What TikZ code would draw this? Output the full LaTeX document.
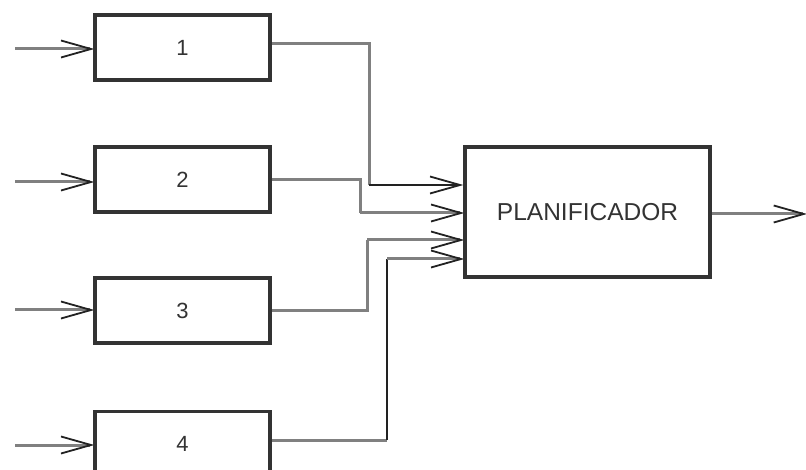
\documentclass[tikz,border=0pt]{standalone}
\usepackage{fontspec}
\setmainfont{Liberation Sans}
\usetikzlibrary{arrows.meta}
\definecolor{boxline}{HTML}{333333}
\definecolor{wire}{HTML}{808080}
\definecolor{wiredark}{HTML}{222222}
\tikzset{
  x=1pt, y=-1pt,
  stagebox/.style={draw=boxline, line width=3.4pt, fill=white, minimum width=175pt, minimum height=65pt, inner sep=0pt, font=\fontsize{22}{24}\selectfont, text=boxline},
  planbox/.style={draw=boxline, line width=3.4pt, fill=white, minimum width=245pt, minimum height=130pt, inner sep=0pt, font=\fontsize{24.5}{26}\selectfont, text=boxline},
  feed/.style={draw=wire, line width=3pt, -{Straight Barb[length=30pt, width=17pt, line width=1.8pt, color=wiredark]}, shorten >=-1pt},
  wireline/.style={draw=wire, line width=3pt},
  darkline/.style={draw=wiredark, line width=1.8pt},
}
\begin{document}
\begin{tikzpicture}
\useasboundingbox (0,0) rectangle (806,470);
\begin{scope}
\clip (0,0) rectangle (806,470);
% stage boxes and the scheduler
\node[stagebox] (b1) at (182.5,47.5) {1};
\node[stagebox] (b2) at (182.5,179.5) {2};
\node[stagebox] (b3) at (182.5,310.5) {3};
\node[stagebox] (b4) at (182.5,444) {4};
\node[planbox] (plan) at (587.5,212) {PLANIFICADOR};

% inputs on the left
\coordinate (i1) at (15,49);
\coordinate (i2) at (15,182);
\coordinate (i3) at (15,310);
\coordinate (i4) at (15,445);
\draw[feed] (i1) -- (i1 -| b1.west);
\draw[feed] (i2) -- (i2 -| b2.west);
\draw[feed] (i3) -- (i3 -| b3.west);
\draw[feed] (i4) -- (i4 -| b4.west);

% routed connectors into the scheduler
\coordinate (o1) at (b1.east |- 0,44);
\coordinate (o2) at (b2.east |- 0,180);
\coordinate (o3) at (b3.east |- 0,311);
\coordinate (o4) at (b4.east |- 0,440);
\coordinate (k1) at (369,44);
\coordinate (k2) at (360,180);
\coordinate (k3) at (367,311);
\coordinate (k4) at (387,440);
\coordinate (e1) at (369,185);
\coordinate (e2) at (360,213);
\coordinate (e3) at (367,240);
\coordinate (e4) at (387,259);

\draw[wireline] (o1) -- (k1) -- (e1);
\draw[darkline, -{Straight Barb[length=30pt, width=17pt, line width=1.8pt]}] (e1) -- (e1 -| plan.west);

\draw[wireline] (o2) -- (k2) -- (e2);
\draw[feed] (e2) -- (e2 -| plan.west);

\draw[wireline] (o3) -- (k3) -- (e3);
\draw[feed] (e3) -- (e3 -| plan.west);

\draw[wireline] (o4) -- (k4);
\draw[darkline] (k4) -- (e4);
\draw[feed] (e4) -- (e4 -| plan.west);

% output on the right
\coordinate (out) at (806,214);
\draw[feed] (plan.east |- out) -- (out);

% redraw borders over the wire ends
\node[stagebox, fill=none] at (b1) {};
\node[stagebox, fill=none] at (b2) {};
\node[stagebox, fill=none] at (b3) {};
\node[stagebox, fill=none] at (b4) {};
\node[planbox, fill=none] at (plan) {};
\end{scope}
\end{tikzpicture}
\end{document}
